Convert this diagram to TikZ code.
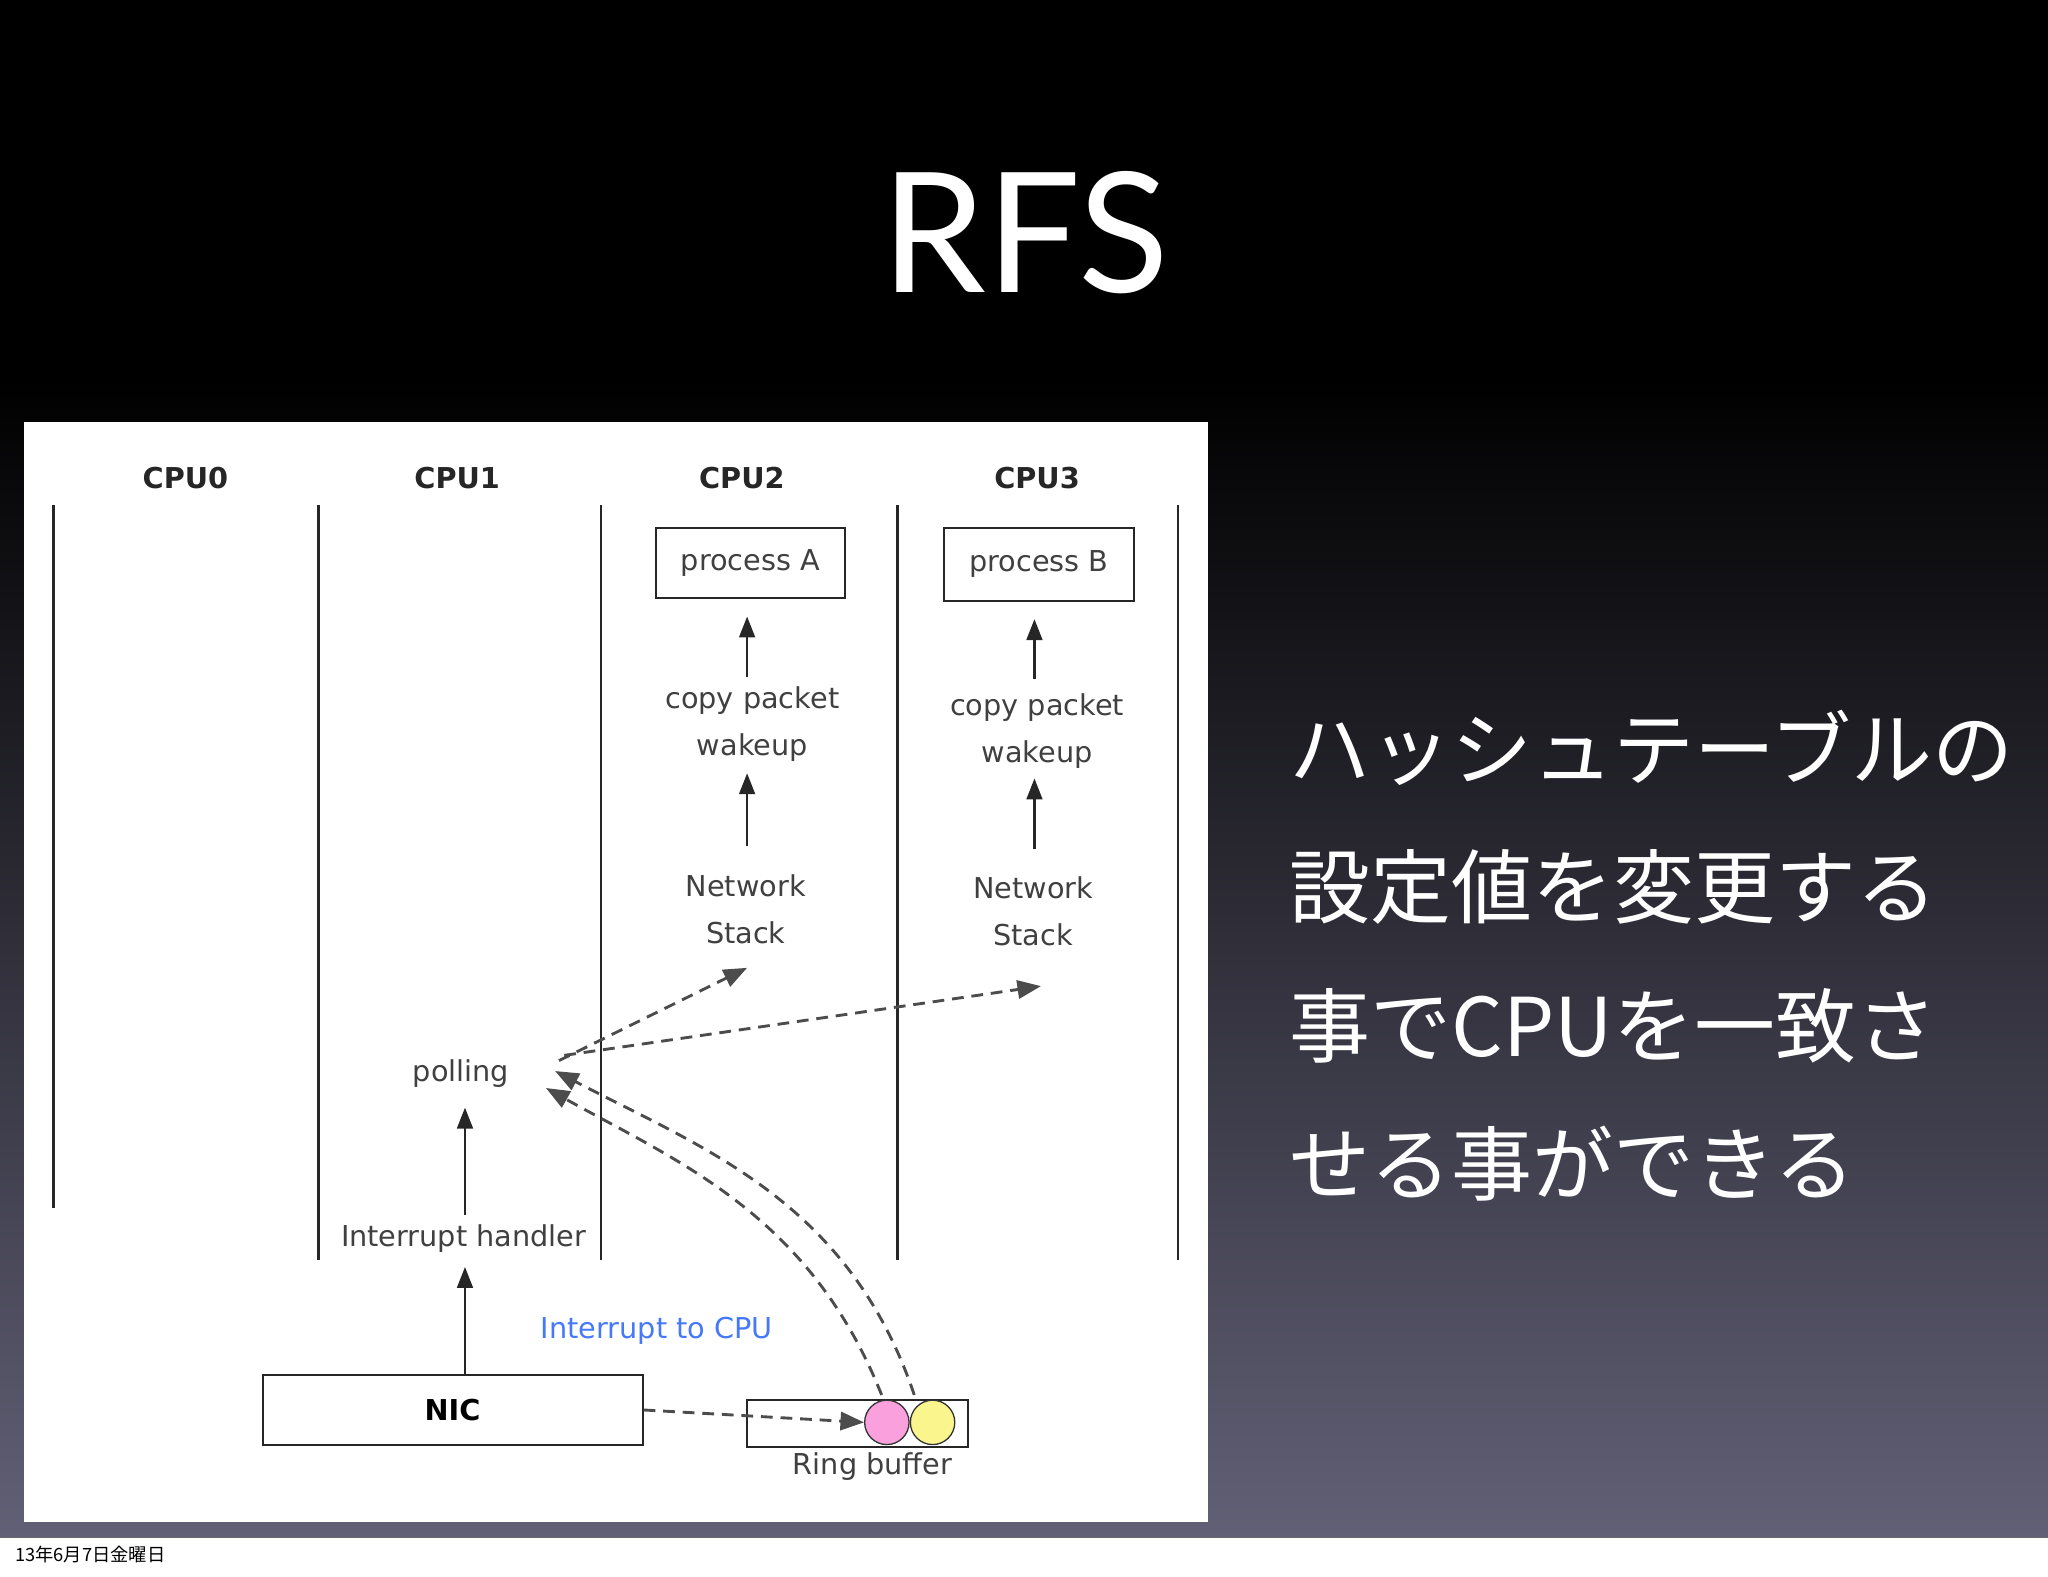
\documentclass[tikz,border=0pt]{standalone}
\usepackage{fontspec}
\setmainfont{DejaVu Sans}
\newfontfamily\jp{Noto Sans CJK JP}
\newfontfamily\ttl{Lato}
\usetikzlibrary{arrows.meta}
\definecolor{bgbot}{RGB}{98,96,118}
\begin{document}
\begin{tikzpicture}[x=1pt,y=-1pt,
  lbl/.style={font=\fontsize{22}{24}\selectfont,text=black!75,inner sep=1pt},
  cpu/.style={font=\bfseries\fontsize{22}{24}\selectfont,text=black!85},
  vl/.style={line width=2pt,black!85},
  box/.style={draw=black!85,line width=1.5pt,inner sep=0pt},
  arr/.style={line width=2pt,black!85,-{Triangle[length=16pt,width=12pt]}},
  dsh/.style={line width=2.2pt,black!70,dash pattern=on 9pt off 6pt,-{Triangle[length=18pt,width=14pt]}}]
\useasboundingbox (0,0) rectangle (1568,1207);
\fill[black] (0,0) rectangle (1568,290);
\shade[top color=black,bottom color=bgbot] (0,290) rectangle (1568,1177);
\fill[white] (0,1177) rectangle (1568,1207);
\draw[black!60] (0,1177) -- (1568,1177);
\node[font=\fontsize{14}{16}\selectfont\jp,anchor=west] (date) at (8,1190) {13年6月7日金曜日};
\node[font=\ttl\fontsize{128}{130}\selectfont,text=white] (title) at (785,178) {RFS};
\node[font=\jp\fontsize{62}{106}\selectfont,text=white,align=left,anchor=north west] (jtext) at (984,540)
 {ハッシュテーブルの\\設定値を変更する\\事でCPUを一致さ\\せる事ができる};
\fill[white] (18,323) rectangle (925,1165);
\draw[vl] (41,387) -- (41,925);
\foreach \x in {244,460,687,902} \draw[vl] (\x,387) -- (\x,965);
\node[cpu] (c0) at (142,366) {CPU0};
\node[cpu] (c1) at (350,366) {CPU1};
\node[cpu] (c2) at (568,366) {CPU2};
\node[cpu] (c3) at (794,366) {CPU3};
\node[box,lbl,minimum width=145pt,minimum height=54pt] (pa) at (574.5,431) {process A};
\node[box,lbl,minimum width=145pt,minimum height=56pt] (pb) at (795.5,432) {process B};
\node[lbl] (cpa) at (576,536) {copy packet};
\node[lbl] (wa) at (576,572) {wakeup};
\node[lbl] (cpb) at (794,542) {copy packet};
\node[lbl] (wb) at (794,578) {wakeup};
\node[lbl] (na) at (571,678) {Network};
\node[lbl] (sa) at (571,714) {Stack};
\node[lbl] (nb) at (791,680) {Network};
\node[lbl] (sb) at (791,716) {Stack};
\draw[arr] (572,518) -- (572,472);
\draw[arr] (572,648) -- (572,592);
\draw[arr] (792,520) -- (792,474);
\draw[arr] (792,650) -- (792,596);
\node[lbl] (poll) at (353,822) {polling};
\node[lbl] (ih) at (355,948) {Interrupt handler};
\node[box,font=\bfseries\fontsize{22}{24}\selectfont,minimum width=291pt,minimum height=53pt] (nic) at (346.5,1079.5) {NIC};
\draw[arr] (356,930) -- (356,848);
\draw[arr] (356,1053) -- (356,970);
\node[font=\fontsize{22}{24}\selectfont,text={rgb,255:red,70;green,120;blue,250}] (itc) at (503,1019) {Interrupt to CPU};
\node[box,minimum width=169pt,minimum height=36pt] (rb) at (656.5,1090) {};
\node[circle,draw=black!80,line width=1pt,fill={rgb,255:red,250;green,160;blue,220},minimum size=34pt,inner sep=0pt] (pk) at (679,1089) {};
\node[circle,draw=black!80,line width=1pt,fill={rgb,255:red,250;green,245;blue,140},minimum size=34pt,inner sep=0pt] (ye) at (714,1089) {};
\node[lbl] (rbl) at (668,1123) {Ring buffer};
\coordinate (p1) at (428,812);
\coordinate (p2) at (432,808);
\coordinate (s1) at (675,1068);
\coordinate (s2) at (700,1068);
\coordinate (t1) at (418,833);
\coordinate (t2) at (425,820);
\draw[dsh] (nic.east) -- (pk.west);
\draw[dsh] (p1) -- (572,741);
\draw[dsh] (p2) -- (797,755);
\draw[dsh] (s1) .. controls (620,930) and (520,890) .. (t1);
\draw[dsh] (s2) .. controls (650,920) and (540,880) .. (t2);
\end{tikzpicture}
\end{document}
